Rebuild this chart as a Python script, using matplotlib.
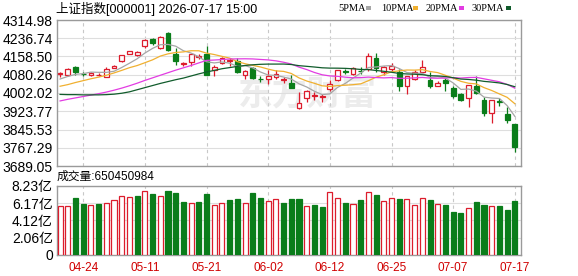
import numpy as np
import pandas as pd
import matplotlib
matplotlib.use("Agg")
import matplotlib.pyplot as plt

# ---------------- data ----------------
title_text = "上证指数[000001] 2026-07-17 15:00"
volume_text = "成交量:650450984"

x_tick_idx = [3, 11, 19, 27, 35, 43, 51, 59]
x_tick_labels = ["04-24", "05-11", "05-21", "06-02", "06-12", "06-25", "07-07", "07-17"]

opens = [4082, 4080, 4112, 4084, 4080, 4080, 4071, 4111, 4140, 4171,
         4165, 4204, 4232, 4197, 4258, 4171, 4128, 4133, 4158, 4170,
         4102, 4132, 4140, 4138, 4081, 4110, 4064, 4064, 4071, 4058,
         4045, 3937, 3982, 3990, 3987, 4019, 4057, 4095, 4085, 4096,
         4104, 4150, 4092, 4105, 4094, 4030, 4062, 4094, 4056, 4033,
         4059, 4023, 3999, 3981, 4033, 3974, 3917, 3967, 3914, 3867]
highs = [4093, 4109, 4117, 4090, 4093, 4086, 4114, 4122, 4165, 4183,
         4180, 4232, 4237, 4245, 4264, 4193, 4136, 4170, 4171, 4203,
         4120, 4156, 4152, 4153, 4099, 4113, 4076, 4100, 4102, 4071,
         4080, 4006, 4016, 4005, 3999, 4058, 4102, 4104, 4112, 4115,
         4172, 4172, 4118, 4130, 4104, 4077, 4102, 4144, 4090, 4052,
         4066, 4030, 4002, 4038, 4076, 3985, 3974, 3980, 3942, 3871]
lows = [4072, 4075, 4079, 4073, 4073, 4074, 4070, 4108, 4136, 4168,
        4160, 4197, 4208, 4192, 4180, 4123, 4119, 4119, 4147, 4078,
        4073, 4125, 4118, 4088, 4060, 4064, 4050, 4040, 4060, 4045,
        4022, 3932, 3963, 3974, 3964, 4010, 4053, 4085, 4080, 4082,
        4095, 4090, 4080, 4090, 4009, 3999, 4056, 4090, 4023, 4030,
        4009, 3981, 3969, 3942, 3998, 3905, 3874, 3945, 3874, 3749]
closes = [4086, 4107, 4094, 4082, 4089, 4081, 4106, 4118, 4163, 4180,
          4177, 4228, 4218, 4242, 4186, 4140, 4130, 4168, 4161, 4081,
          4115, 4150, 4142, 4092, 4096, 4068, 4062, 4077, 4085, 4060,
          4025, 3960, 4009, 3993, 3989, 4040, 4099, 4094, 4108, 4095,
          4161, 4110, 4114, 4119, 4030, 4076, 4094, 4113, 4030, 4047,
          4045, 3991, 3974, 4038, 4002, 3917, 3971, 3965, 3885, 3772]
# volume in 亿 (1e8)
volumes = [5.84, 5.84, 6.84, 6.08, 5.96, 6.08, 6.17, 6.56, 7.04, 6.92,
           7.04, 7.63, 7.28, 7.04, 7.67, 7.44, 6.36, 6.20, 6.36, 7.32,
           5.96, 6.20, 6.60, 6.72, 6.20, 7.40, 6.84, 6.44, 6.68, 6.20,
           6.68, 6.68, 5.84, 5.96, 5.72, 7.52, 6.80, 6.20, 6.08, 6.56,
           7.52, 7.16, 6.44, 6.80, 6.68, 6.68, 5.96, 6.80, 6.56, 6.08,
           5.96, 5.13, 5.01, 5.60, 6.36, 6.00, 5.90, 5.90, 5.40, 6.50]

ma5_head = [4062, 4073, 4082, 4085]
ma10_head = [4031, 4038, 4047, 4055, 4063, 4070, 4078, 4088, 4099]
ma20_head = [3968, 3975, 3981, 3987, 3993, 3999, 4006, 4014, 4023, 4033,
             4044, 4056, 4067, 4078, 4089, 4100, 4110, 4120, 4131]
ma30_head = [3996, 3995, 3995, 3994, 3994, 3994, 3995, 3997, 4001, 4007,
             4016, 4025, 4034, 4043, 4051, 4059, 4066, 4075, 4084, 4092,
             4099, 4106, 4111, 4116, 4120, 4123, 4125, 4126, 4126]

price_ticks = [3689.05, 3767.29, 3845.53, 3923.77, 4002.02, 4080.26, 4158.50, 4236.74, 4314.98]
vol_ticks = [0, 2.06, 4.12, 6.17, 8.23]
vol_tick_labels = ["0", "2.06亿", "4.12亿", "6.17亿", "8.23亿"]

ma_names = ["5PMA", "10PMA", "20PMA", "30PMA"]
ma_windows = [5, 10, 20, 30]
ma_colors = ["#a6a6a6", "#f0b030", "#e23ce2", "#115c2c"]

# ---------------- styling ----------------
RED = "#dc1c2c"
GREEN = "#0a7d1a"
FRAME = "#9a9a9a"
GRID_H = "#dedede"
GRID_V = "#c8c8c8"
CJK = ["Liberation Sans", "Noto Sans CJK SC"]

W, H = 578, 276
fig = plt.figure(figsize=(W / 100, H / 100), dpi=100)
fig.patch.set_facecolor("white")

L, R = 57, 521
ax = fig.add_axes([L / W, 1 - 166 / H, (R - L) / W, (166 - 20) / H])
axv = fig.add_axes([L / W, 1 - 255 / H, (R - L) / W, (255 - 186) / H])

x = np.arange(len(closes))
o = np.array(opens, float)
h = np.array(highs, float)
lo = np.array(lows, float)
c = np.array(closes, float)
v = np.array(volumes, float)

up = c >= o
prev = np.concatenate([[o[0]], c[:-1]])
vup = c >= prev

cs = pd.Series(c)
heads = [ma5_head, ma10_head, ma20_head, ma30_head]

# ---------- price panel ----------
wick_colors = [RED if u else GREEN for u in up]
ax.vlines(x, lo, h, colors=wick_colors, linewidth=0.9, zorder=2)
body_bottom = np.minimum(o, c)
body_h = np.maximum(np.abs(c - o), 0.9)
ax.bar(x, body_h, bottom=body_bottom, width=0.62,
       facecolor=["white" if u else GREEN for u in up],
       edgecolor=wick_colors, linewidth=0.9, zorder=3)

for n, head, col in zip(ma_windows, heads, ma_colors):
    m = cs.rolling(n).mean().to_numpy()
    m[:n - 1] = head
    ax.plot(x, m, color=col, linewidth=0.9, zorder=4)

ax.set_xlim(-0.4, 59.8)
ax.set_ylim(price_ticks[0], price_ticks[-1])
ax.set_yticks(price_ticks)
ax.set_yticklabels([f"{t:.2f}" for t in price_ticks])
ax.set_xticks(x_tick_idx)
ax.tick_params(axis="x", labelbottom=False, length=0)
ax.tick_params(axis="y", length=0, pad=3, labelsize=10, labelcolor="black")
for lab in ax.get_yticklabels():
    lab.set_fontfamily("Liberation Sans")
ax.yaxis.grid(True, color=GRID_H, linewidth=0.8, linestyle="-")
ax.xaxis.grid(True, color=GRID_V, linewidth=0.8, linestyle=(0, (3, 3)))
ax.set_axisbelow(True)
for s in ax.spines.values():
    s.set_color(FRAME)
    s.set_linewidth(1.0)

# watermark
ax.text(0.54, 0.49, "东方财富", transform=ax.transAxes, ha="center", va="center",
        fontsize=25, fontweight="bold", color="#ececec",
        family=["Noto Sans CJK SC"], zorder=0.5)

# ---------- volume panel ----------
vcols = [RED if u else GREEN for u in vup]
axv.bar(x, v, width=0.66,
        facecolor=["white" if u else GREEN for u in vup],
        edgecolor=vcols, linewidth=0.9, zorder=3)
axv.set_xlim(-0.4, 59.8)
axv.set_ylim(0, vol_ticks[-1])
axv.set_yticks(vol_ticks)
axv.set_yticklabels(vol_tick_labels)
axv.set_xticks(x_tick_idx)
axv.set_xticklabels(x_tick_labels)
axv.tick_params(axis="y", length=0, pad=3, labelsize=10)
axv.tick_params(axis="x", length=0, pad=5, labelsize=8.5, labelcolor="#d00000")
for lab in axv.get_yticklabels():
    lab.set_fontfamily(CJK)
for lab in axv.get_xticklabels():
    lab.set_fontfamily("Liberation Sans")
axv.yaxis.grid(True, color=GRID_H, linewidth=0.8, linestyle="-")
axv.xaxis.grid(True, color=GRID_V, linewidth=0.8, linestyle=(0, (3, 3)))
axv.set_axisbelow(True)
for s in axv.spines.values():
    s.set_color(FRAME)
    s.set_linewidth(1.0)

# ---------- texts ----------
fig.text(56 / W, 1 - 9 / H, title_text, ha="left", va="center",
         fontsize=9, family=CJK, color="black")
fig.text(57 / W, 1 - 177 / H, volume_text, ha="left", va="center",
         fontsize=8.5, family=CJK, color="black")

# MA legend
leg_x = [338, 381, 426, 472]
sw_x = [366, 413, 459, 506]
for name, col, tx, sx in zip(ma_names, ma_colors, leg_x, sw_x):
    fig.text(tx / W, 1 - 8.5 / H, name, ha="left", va="center",
             fontsize=7.5, family="Liberation Serif", color="black")
    fig.patches.append(plt.Rectangle((sx / W, 1 - 9.5 / H), 5 / W, 3 / H,
                                     transform=fig.transFigure, facecolor=col,
                                     edgecolor="none", figure=fig))

fig.savefig("out.png", dpi=100, facecolor="white")
